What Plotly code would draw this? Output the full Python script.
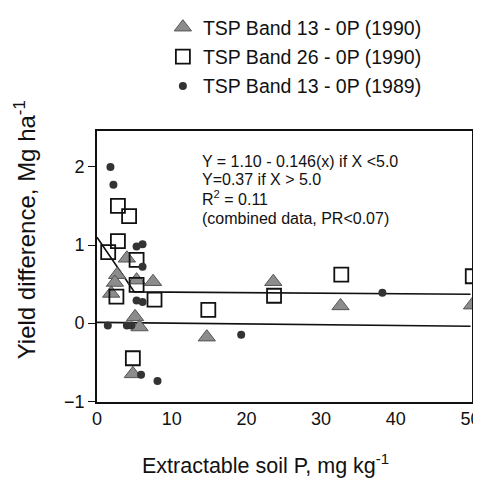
import plotly.graph_objects as go

# Data
tri_x = [4.0, 2.7, 2.4, 1.9, 5.3, 7.5, 5.1, 5.7, 4.8, 14.7, 23.6, 32.6, 50.2]
tri_y = [0.83, 0.62, 0.52, 0.38, 0.55, 0.53, 0.08, -0.05, -0.65, -0.18, 0.53, 0.22, 0.23]

sq_x = [2.8, 4.3, 2.8, 1.5, 5.3, 5.3, 2.6, 7.7, 14.9, 23.7, 32.7, 50.3, 4.8]
sq_y = [1.50, 1.37, 1.05, 0.91, 0.81, 0.49, 0.34, 0.30, 0.17, 0.35, 0.62, 0.60, -0.45]

dot_x = [1.8, 2.2, 5.3, 6.1, 6.1, 5.3, 6.1, 1.45, 4.0, 4.6, 5.9, 8.1, 19.3, 38.2]
dot_y = [2.0, 1.77, 0.98, 1.01, 0.72, 0.29, 0.27, -0.03, -0.03, -0.03, -0.66, -0.74, -0.15, 0.39]

fit_x = [0, 5, 50]
fit_y = [1.10, 0.40, 0.37]

zero_x = [0, 50]
zero_y = [0.01, -0.04]

x_ticks = [0, 10, 20, 30, 40, 50]
y_ticks = [-1, 0, 1, 2]

eq_lines = ["Y = 1.10 - 0.146(x) if X <5.0",
            "Y=0.37 if X > 5.0",
            "R<sup>2</sup> = 0.11",
            "(combined data, PR<0.07)"]

FONT = "Liberation Sans, Arial, Helvetica, sans-serif"

fig = go.Figure()

fig.add_trace(go.Scatter(x=fit_x, y=fit_y, mode="lines", showlegend=False,
                         line=dict(color="#111", width=1.6), hoverinfo="skip"))
fig.add_trace(go.Scatter(x=zero_x, y=zero_y, mode="lines", showlegend=False,
                         line=dict(color="#111", width=1.6), hoverinfo="skip"))

fig.add_trace(go.Scatter(x=tri_x, y=tri_y, mode="markers", name="TSP Band 13 - 0P (1990)",
                         legendgroup="a",
                         marker=dict(symbol="triangle-up", size=15, color="#8c8c8c",
                                     line=dict(color="#555", width=1))))
fig.add_trace(go.Scatter(x=sq_x, y=sq_y, mode="markers", name="TSP Band 26 - 0P (1990)",
                         legendgroup="b",
                         marker=dict(symbol="square-open", size=14, color="#111",
                                     line=dict(color="#111", width=1.8))))
fig.add_trace(go.Scatter(x=dot_x, y=dot_y, mode="markers", name="TSP Band 13 - 0P (1989)",
                         legendgroup="c",
                         marker=dict(symbol="circle", size=8, color="#333")))

# margins are zero; plot area placed by axis domains (paper == whole figure)
eq_y = [0.681, 0.643, 0.604, 0.5625]
for t, yy in zip(eq_lines, eq_y):
    fig.add_annotation(xref="paper", yref="paper", x=0.399, y=yy, xanchor="left", yanchor="middle",
                       align="left", showarrow=False, text=t,
                       font=dict(family=FONT, size=16, color="#111"))

fig.add_annotation(xref="paper", yref="paper", x=0.036, y=0.5375, textangle=-90,
                   xanchor="center", yanchor="middle",
                   showarrow=False, text="Yield difference, Mg ha<sup>-1</sup>",
                   font=dict(family=FONT, size=24, color="#111"))
fig.add_annotation(xref="paper", yref="paper", x=0.536, y=0.05,
                   xanchor="center", yanchor="middle",
                   showarrow=False, text="Extractable soil P, mg kg<sup>-1</sup>",
                   font=dict(family=FONT, size=21.5, color="#111"))

fig.update_xaxes(domain=[0.1850, 0.9647], range=[0, 50.2], tickvals=x_ticks,
                 showgrid=False, zeroline=False,
                 showline=True, linecolor="#111", linewidth=1.6, mirror=True, automargin=False,
                 ticks="", tickfont=dict(family=FONT, size=18, color="#111"))
fig.update_yaxes(domain=[0.1792, 0.7438], range=[-1.01, 2.46], tickvals=y_ticks,
                 showgrid=False, zeroline=False,
                 showline=True, linecolor="#111", linewidth=1.6, mirror=True, automargin=False,
                 ticks="outside", ticklen=7, tickcolor="#111", tickwidth=1.4,
                 tickfont=dict(family=FONT, size=18, color="#111"))

fig.update_layout(
    width=481, height=480,
    margin=dict(l=0, r=0, t=0, b=0),
    paper_bgcolor="white", plot_bgcolor="white",
    font=dict(family=FONT, size=18, color="#111"),
    legend=dict(x=0.322, y=1.0, xanchor="left", yanchor="top",
                bgcolor="rgba(0,0,0,0)", font=dict(family=FONT, size=19.5, color="#111"),
                tracegroupgap=1, itemwidth=30),
)

fig.write_html("out.html")
